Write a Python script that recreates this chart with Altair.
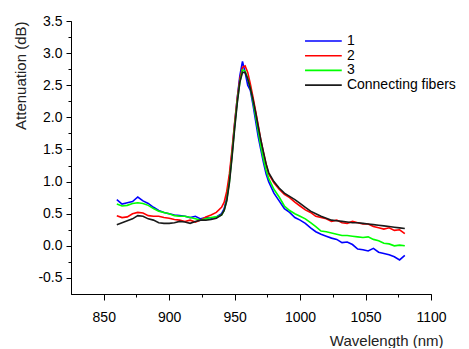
import altair as alt
import pandas as pd

wavelength = [860, 864, 868, 872, 876, 880, 884, 888, 892, 896, 900, 904, 908, 912, 916, 920, 924, 928, 932, 936,
              940, 942, 944, 946, 948, 950, 952, 954, 956, 958, 960, 962, 964, 966, 968, 970, 972, 974, 976,
              980, 984, 988, 992, 996, 1000, 1004, 1008, 1012, 1016, 1020, 1024, 1028, 1032, 1036, 1040, 1044,
              1048, 1052, 1056, 1060, 1064, 1068, 1072, 1076, 1080]

s1 = [0.72, 0.65, 0.67, 0.69, 0.76, 0.70, 0.66, 0.60, 0.55, 0.52, 0.50, 0.48, 0.47, 0.46, 0.44, 0.46, 0.42, 0.44, 0.43, 0.45,
      0.50, 0.58, 0.75, 1.05, 1.45, 1.90, 2.30, 2.65, 2.87, 2.70, 2.50, 2.42, 2.20, 1.95, 1.70, 1.50, 1.30, 1.12, 1.00,
      0.82, 0.70, 0.58, 0.52, 0.44, 0.40, 0.35, 0.28, 0.22, 0.18, 0.15, 0.12, 0.10, 0.05, 0.06, 0.02, -0.05,
      -0.06, -0.08, -0.04, -0.10, -0.12, -0.14, -0.17, -0.22, -0.15]

s2 = [0.47, 0.44, 0.45, 0.50, 0.52, 0.51, 0.47, 0.46, 0.46, 0.44, 0.43, 0.41, 0.40, 0.38, 0.40, 0.37, 0.40, 0.45, 0.48, 0.52,
      0.60, 0.68, 0.85, 1.12, 1.50, 1.92, 2.30, 2.60, 2.78, 2.80, 2.70, 2.52, 2.32, 2.10, 1.88, 1.65, 1.45, 1.27, 1.12,
      0.98, 0.88, 0.80, 0.75, 0.68, 0.62, 0.56, 0.52, 0.46, 0.44, 0.42, 0.38, 0.40, 0.36, 0.35, 0.38, 0.36,
      0.34, 0.34, 0.30, 0.28, 0.26, 0.28, 0.24, 0.25, 0.19]

s3 = [0.65, 0.62, 0.63, 0.66, 0.67, 0.66, 0.63, 0.58, 0.54, 0.52, 0.50, 0.47, 0.46, 0.46, 0.44, 0.42, 0.40, 0.42, 0.44, 0.45,
      0.48, 0.55, 0.72, 1.00, 1.40, 1.85, 2.25, 2.55, 2.74, 2.72, 2.60, 2.45, 2.25, 2.02, 1.78, 1.55, 1.35, 1.18, 1.05,
      0.88, 0.76, 0.62, 0.55, 0.50, 0.46, 0.42, 0.36, 0.30, 0.23, 0.22, 0.20, 0.18, 0.16, 0.16, 0.15, 0.14,
      0.13, 0.14, 0.10, 0.08, 0.04, 0.03, 0.00, 0.01, 0.00]

s_conn = [0.33, 0.36, 0.39, 0.42, 0.47, 0.46, 0.42, 0.40, 0.36, 0.35, 0.35, 0.36, 0.38, 0.37, 0.35, 0.38, 0.40, 0.40, 0.41, 0.43,
          0.48, 0.55, 0.70, 0.98, 1.38, 1.82, 2.22, 2.55, 2.70, 2.70, 2.60, 2.45, 2.28, 2.08, 1.86, 1.65, 1.46, 1.28, 1.14,
          1.00, 0.90, 0.82, 0.77, 0.72, 0.66, 0.60, 0.54, 0.50, 0.46, 0.43, 0.40, 0.39, 0.38, 0.37, 0.36, 0.36,
          0.35, 0.34, 0.33, 0.32, 0.31, 0.30, 0.29, 0.28, 0.27]

series_names = ["1", "2", "3", "Connecting fibers"]
series_colors = ["#0000ff", "#ff0000", "#00ff00", "#1a1a1a"]

x_major = [850, 900, 950, 1000, 1050, 1100]
x_minor = [875, 925, 975, 1025, 1075]
y_major = [-0.5, 0.0, 0.5, 1.0, 1.5, 2.0, 2.5, 3.0, 3.5]
y_minor = [-0.25, 0.25, 0.75, 1.25, 1.75, 2.25, 2.75, 3.25]

rows = []
for name, vals in zip(series_names, [s1, s2, s3, s_conn]):
    for w, v in zip(wavelength, vals):
        rows.append({"wl": w, "att": v, "series": name})
df = pd.DataFrame(rows)

FONT = "Liberation Sans"
xscale = alt.Scale(domain=[825, 1100], nice=False, zero=False)
yscale = alt.Scale(domain=[-0.75, 3.5], nice=False, zero=False)

label_expr = "datum.value < 0 ? '-' + format(-datum.value, '.1f') : format(datum.value, '.1f')"

lines = alt.Chart(df).mark_line(strokeWidth=1.6).encode(
    x=alt.X("wl:Q", scale=xscale,
            axis=alt.Axis(values=x_major, orient="bottom", tickSize=6, labelPadding=10,
                          format="d",
                          grid=False, domainColor="black", tickColor="black",
                          labelColor="black", labelFont=FONT, labelFontSize=14,
                          title="Wavelength (nm)", titleFont=FONT, titleFontSize=15,
                          titleFontWeight="normal", titleColor="#222222",
                          titleAlign="right", titleBaseline="alphabetic",
                          titleX=372, titleY=51, labelFlush=False)),
    y=alt.Y("att:Q", scale=yscale,
            axis=alt.Axis(values=y_major, orient="left", tickSize=5, labelPadding=4,
                          grid=False, domainColor="black", tickColor="black",
                          labelColor="black", labelFont=FONT, labelFontSize=14,
                          labelExpr=label_expr,
                          title="Attenuation (dB)", titleFont=FONT, titleFontSize=15,
                          titleFontWeight="normal", titleColor="#222222",
                          titleAngle=270, titleAlign="right", titleBaseline="alphabetic",
                          titleX=-46, titleY=0, labelFlush=False)),
    color=alt.Color("series:N",
                    scale=alt.Scale(domain=series_names, range=series_colors),
                    sort=series_names,
                    legend=alt.Legend(orient="none", legendX=245.4, legendY=13, title=None,
                                      symbolType="M-3,0H3", symbolSize=150,
                                      symbolStrokeWidth=1.6, labelFont=FONT,
                                      labelFontSize=14, labelColor="black",
                                      labelOffset=16.5, rowPadding=0.7, padding=0)),
)

minor = alt.Chart(df).mark_point(opacity=0).encode(
    x=alt.X("wl:Q", scale=xscale,
            axis=alt.Axis(values=x_minor, orient="bottom", tickSize=3, labels=False,
                          grid=False, domainColor="black", tickColor="black", title=None)),
    y=alt.Y("att:Q", scale=yscale,
            axis=alt.Axis(values=y_minor, orient="left", tickSize=3, labels=False,
                          grid=False, domainColor="black", tickColor="black", title=None)),
)

chart = alt.layer(lines, minor).resolve_axis(x="independent", y="independent").properties(
    width=360, height=273,
    autosize=alt.AutoSizeParams(type="none"),
    padding={"left": 63, "top": 13, "right": 30, "bottom": 54},
    background="white",
).configure_view(strokeWidth=0)

chart.save("out.html", embed_options={"renderer": "svg", "actions": False})
